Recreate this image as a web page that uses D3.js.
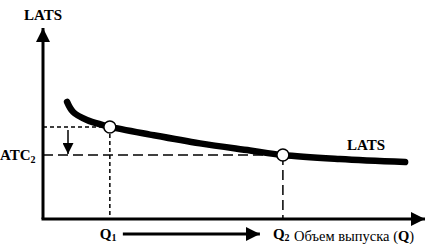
<!DOCTYPE html>
<html>
<head>
<meta charset="utf-8">
<script src="https://cdn.jsdelivr.net/npm/d3@7"></script>
<style>
  body { margin: 0; background: #fff; }
  svg text { font-family: "Liberation Serif", "DejaVu Serif", serif; fill: #000; }
</style>
</head>
<body>
<div id="chart-area"></div>
<script>
const WIDTH = 428
const HEIGHT = 244

// LATS curve (output, cost)
const curveQ = [6.3, 7.9, 11.5, 15.7, 17.5, 28.0, 41.1, 54.2, 62.8, 77.7, 94.8]
const curveCost = [61.3, 56.0, 51.8, 49.2, 48.2, 44.2, 39.6, 35.9, 33.5, 31.4, 29.8]
const pointQ = [17.5, 62.8]
const pointCost = [48.2, 33.5]
const pointLabels = ["1", "2"]

const FONT = '"Liberation Serif", "DejaVu Serif", serif'

const svg = d3.select("#chart-area")
    .append("svg")
    .attr("width", WIDTH)
    .attr("height", HEIGHT)

const x = d3.scaleLinear().domain([0, 100]).range([43, 425])
const y = d3.scaleLinear().domain([0, 100]).range([219, 28])

const defs = svg.append("defs")
defs.append("marker")
    .attr("id", "head")
    .attr("viewBox", "0 0 10 10")
    .attr("refX", 10).attr("refY", 5)
    .attr("markerWidth", 14).attr("markerHeight", 14)
    .attr("markerUnits", "userSpaceOnUse")
    .attr("orient", "auto")
    .append("path").attr("d", "M0,0 L10,5 L0,10 Z").attr("fill", "#000")
defs.append("marker")
    .attr("id", "small")
    .attr("viewBox", "0 0 10 10")
    .attr("refX", 10).attr("refY", 5)
    .attr("markerWidth", 11).attr("markerHeight", 11)
    .attr("markerUnits", "userSpaceOnUse")
    .attr("orient", "auto")
    .append("path").attr("d", "M0,0 L10,5 L0,10 Z").attr("fill", "#000")

// dashed guides
svg.append("line")
    .attr("x1", x(0)).attr("x2", x(pointQ[0]))
    .attr("y1", y(pointCost[0])).attr("y2", y(pointCost[0]))
    .attr("stroke", "#000").attr("stroke-width", 1.5).attr("stroke-dasharray", "4,3")
svg.append("line")
    .attr("x1", x(pointQ[0])).attr("x2", x(pointQ[0]))
    .attr("y1", y(pointCost[0])).attr("y2", y(0))
    .attr("stroke", "#000").attr("stroke-width", 1.5).attr("stroke-dasharray", "4,3")
svg.append("line")
    .attr("x1", x(0)).attr("x2", x(pointQ[1]))
    .attr("y1", y(pointCost[1])).attr("y2", y(pointCost[1]))
    .attr("stroke", "#000").attr("stroke-width", 1.5).attr("stroke-dasharray", "10,5")
svg.append("line")
    .attr("x1", x(pointQ[1])).attr("x2", x(pointQ[1]))
    .attr("y1", y(pointCost[1])).attr("y2", y(0))
    .attr("stroke", "#000").attr("stroke-width", 1.5).attr("stroke-dasharray", "10,5")

// axes
svg.append("path")
    .attr("d", `M${x(0)},${y(0)} L${x(0)},${y(100)}`)
    .attr("stroke", "#000").attr("stroke-width", 3).attr("fill", "none")
    .attr("marker-end", "url(#head)")
svg.append("path")
    .attr("d", `M${x(0) - 1.5},${y(0)} L${x(100)},${y(0)}`)
    .attr("stroke", "#000").attr("stroke-width", 3).attr("fill", "none")
    .attr("marker-end", "url(#head)")

// down arrow
svg.append("line")
    .attr("x1", 68).attr("x2", 68)
    .attr("y1", y(pointCost[0]) + 3).attr("y2", y(pointCost[1]) - 1)
    .attr("stroke", "#000").attr("stroke-width", 1.5)
    .attr("marker-end", "url(#small)")

// right arrow under the axis
svg.append("line")
    .attr("x1", x(pointQ[0]) + 13).attr("x2", x(pointQ[1]) - 23)
    .attr("y1", 234).attr("y2", 234)
    .attr("stroke", "#000").attr("stroke-width", 3)
    .attr("marker-end", "url(#head)")

// LATS curve
const line = d3.line()
    .x((d, i) => x(curveQ[i]))
    .y(d => y(d))
    .curve(d3.curveCatmullRom.alpha(0.5))
svg.append("path")
    .datum(curveCost)
    .attr("d", line)
    .attr("fill", "none")
    .attr("stroke", "#000")
    .attr("stroke-width", 6.5)
    .attr("stroke-linecap", "round")

svg.selectAll("circle.pt")
    .data(pointQ)
    .enter()
    .append("circle")
    .attr("class", "pt")
    .attr("cx", d => x(d))
    .attr("cy", (d, i) => y(pointCost[i]))
    .attr("r", 6)
    .attr("fill", "#fff")
    .attr("stroke", "#000")
    .attr("stroke-width", 1.5)

// labels
svg.append("text")
    .attr("x", x(0)).attr("y", 20)
    .attr("text-anchor", "middle")
    .style("font-family", FONT)
    .style("font-size", "15px").style("font-weight", "bold")
    .text("LATS")
svg.append("text")
    .attr("x", 347).attr("y", 150)
    .style("font-family", FONT)
    .style("font-size", "15px").style("font-weight", "bold")
    .text("LATS")

const atc = svg.append("text")
    .attr("x", 0).attr("y", y(pointCost[1]) + 5)
    .style("font-family", FONT)
    .style("font-size", "15px").style("font-weight", "bold")
atc.append("tspan").text("ATC")
atc.append("tspan").attr("dy", 3).style("font-size", "10px").text("2")

svg.selectAll("text.q")
    .data(pointQ)
    .enter()
    .append("text")
    .attr("class", "q")
    .attr("x", d => x(d) - 10)
    .attr("y", 239)
    .style("font-family", FONT)
    .style("font-size", "15px").style("font-weight", "bold")
    .each(function (d, i) {
        const t = d3.select(this)
        t.append("tspan").text("Q")
        t.append("tspan").attr("dy", 2).style("font-size", "10px").text(pointLabels[i])
    })

const axisLabel = svg.append("text")
    .attr("x", 294).attr("y", 241)
    .style("font-family", FONT)
    .style("font-size", "14.5px")
axisLabel.append("tspan").text("Объем выпуска (")
axisLabel.append("tspan").style("font-weight", "bold").text("Q")
axisLabel.append("tspan").text(")")
</script>
</body>
</html>
